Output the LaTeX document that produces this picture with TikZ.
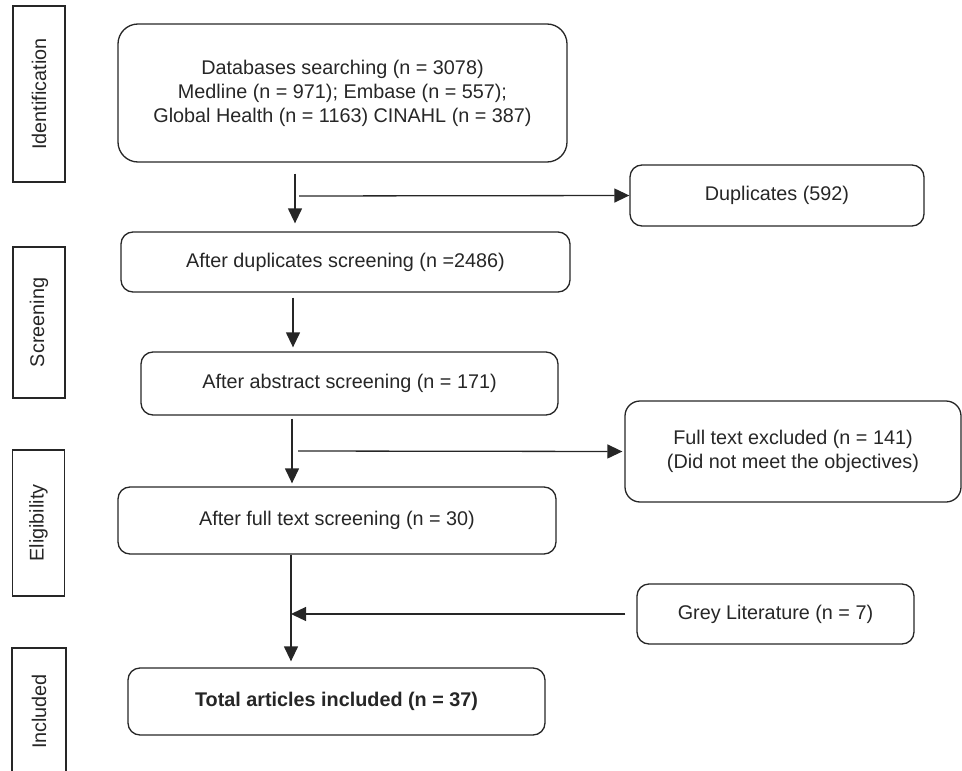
\documentclass[tikz,border=0pt]{standalone}
\usepackage{fontspec}
\setmainfont{Liberation Sans}
\usetikzlibrary{arrows.meta}

\begin{document}
\begin{tikzpicture}[x=1pt,y=1pt,yscale=-1,xscale=1,
  every node/.style={font=\fontsize{19.8}{24}\selectfont, text=black!85},
  box/.style={draw=black!85, line width=1.3pt, rounded corners=12pt, align=center, inner sep=0pt},
  stagebox/.style={draw=black!85, line width=1.3pt, rotate=90, inner sep=0pt, minimum height=52pt},
  flow/.style={draw=black!85, line width=1.3pt, -{Triangle[length=15pt,width=14pt]}}]
\useasboundingbox (0,0) rectangle (962,771);

%Shape: Stage labels
\node [stagebox, minimum width=176pt] (ident) at (39,94) {Identification};
\node [stagebox, minimum width=151pt] (screen) at (39,322.5) {Screening};
\node [stagebox, minimum width=146pt] (elig) at (38.5,523) {Eligibility};
\node [stagebox, draw=none] (incl) at (39,711.5) {Included};
\draw [draw=black!85, line width=1.3pt] (12,771) |- (66,648) -- (66,771);

%Shape: Boxes
\node [box, rounded corners=20pt, minimum width=449pt, minimum height=138pt] (db) at (342.5,93) {Databases searching (n = 3078)\\Medline (n = 971); Embase (n = 557);\\Global Health (n = 1163) CINAHL (n = 387)};
\node [box, minimum width=294pt, minimum height=61pt] (dups) at (777,195.5) {Duplicates (592)};
\node [box, minimum width=449pt, minimum height=60pt] (dupscr) at (345.5,262) {After duplicates screening (n =2486)};
\node [box, minimum width=417pt, minimum height=63pt] (abs) at (349.5,383.5) {After abstract screening (n = 171)};
\node [box, rounded corners=15pt, minimum width=336pt, minimum height=101pt] (ftex) at (793,451.5) {Full text excluded (n = 141)\\(Did not meet the objectives)};
\node [box, minimum width=438pt, minimum height=67pt] (fts) at (337,520.5) {After full text screening (n = 30)};
\node [box, minimum width=277pt, minimum height=60pt] (grey) at (775.5,614) {Grey Literature (n = 7)};
\node [box, minimum width=417pt, minimum height=67pt] (total) at (336.5,701.5) {\textbf{Total articles included (n = 37)}};

%Straight Lines: junctions on the trunk
\coordinate (j1) at (295,196);
\coordinate (j2) at (293,322);
\coordinate (j3) at (292,451);
\coordinate (j4) at (291,614);

%Straight Lines
\draw [flow, shorten <=11pt, shorten >=8pt] (db.south -| j1) -- (dupscr.north -| j1);
\draw [flow, shorten <=4pt] (j1) -- (dups.west);
\draw [flow, shorten <=5pt, shorten >=4pt] (dupscr.south -| j2) -- (abs.north -| j2);
\draw [flow, shorten <=3pt, shorten >=3pt] (abs.south -| j3) -- (fts.north -| j3);
\draw [flow, shorten <=6pt, shorten >=2pt] (j3) -- (ftex.west);
\draw [flow, shorten >=6pt] (fts.south -| j4) -- (total.north -| j4);
\draw [flow, shorten <=11pt] (grey.west) -- (j4);

\end{tikzpicture}
\end{document}
